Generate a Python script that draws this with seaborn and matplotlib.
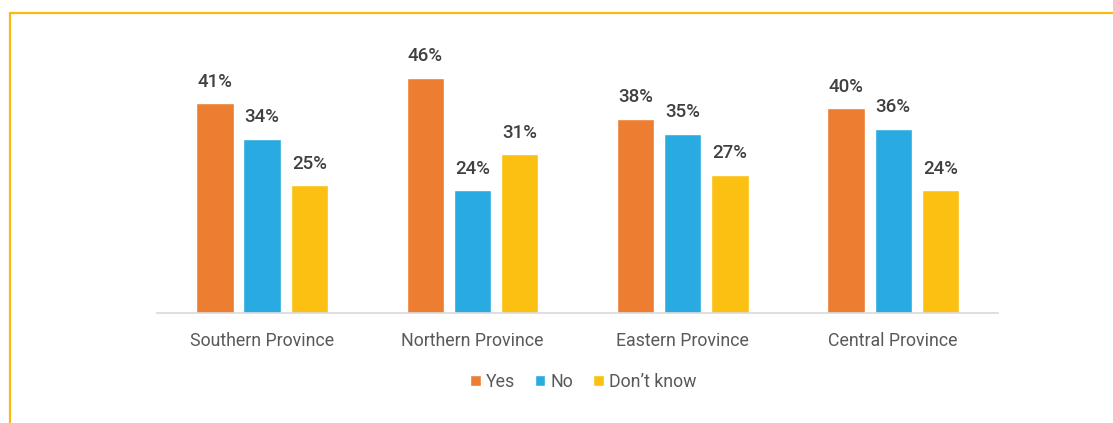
import matplotlib
matplotlib.use("Agg")
import matplotlib.pyplot as plt
from matplotlib.lines import Line2D
import seaborn as sns
import pandas as pd

provinces = ["Southern Province", "Northern Province", "Eastern Province", "Central Province"]
answers = ["Yes", "No", "Don\u2019t know"]
yes_vals = [41, 46, 38, 40]
no_vals = [34, 24, 35, 36]
dk_vals = [25, 31, 27, 24]
colors = ["#ED7D31", "#29ABE2", "#FBC012"]

rows = []
for ans, vals in zip(answers, [yes_vals, no_vals, dk_vals]):
    for p, v in zip(provinces, vals):
        rows.append({"province": p, "answer": ans, "value": v})
df = pd.DataFrame(rows)

sns.set_theme(style="white")
plt.rcParams["font.family"] = ["Roboto", "DejaVu Sans"]

fig = plt.figure(figsize=(11.13, 4.23), dpi=100)
ax = fig.add_axes([0.141, 0.260, 0.756, 0.605])

sns.barplot(data=df, x="province", y="value", hue="answer", order=provinces,
            hue_order=answers, palette=colors, width=0.672, gap=0.21,
            saturation=1, errorbar=None, legend=True, ax=ax)

for cont in ax.containers:
    ax.bar_label(cont, labels=[f"{int(v)}%" for v in cont.datavalues],
                 padding=9, fontsize=13.5, fontweight="medium", color="#404040")

ax.set_ylim(0, 50)
ax.set_xlim(-0.5, 3.5)
ax.set_xlabel("")
ax.set_ylabel("")
ax.set_yticks([])
ax.tick_params(axis="x", length=0, pad=14, labelsize=12.8, labelcolor="#595959")
for s in ["top", "right", "left"]:
    ax.spines[s].set_visible(False)
ax.spines["bottom"].set_color("#D9D9D9")
ax.spines["bottom"].set_linewidth(1.2)

handles, labels = ax.get_legend_handles_labels()
ax.legend(handles, labels, loc="center", bbox_to_anchor=(0.524, 0.097),
          bbox_transform=fig.transFigure, ncol=3, frameon=False,
          fontsize=12.8, labelcolor="#595959", handlelength=0.6, handleheight=0.6,
          handletextpad=0.3, columnspacing=1.1)

# Frame lines along the top and left edge
border = "#FDB913"
fig.add_artist(Line2D([10 / 1113, 1.0], [1 - 13 / 423, 1 - 13 / 423],
                      transform=fig.transFigure, color=border, lw=1.6))
fig.add_artist(Line2D([10 / 1113, 10 / 1113], [0.0, 1 - 13 / 423],
                      transform=fig.transFigure, color=border, lw=1.6))

fig.savefig("out.png", dpi=100)
